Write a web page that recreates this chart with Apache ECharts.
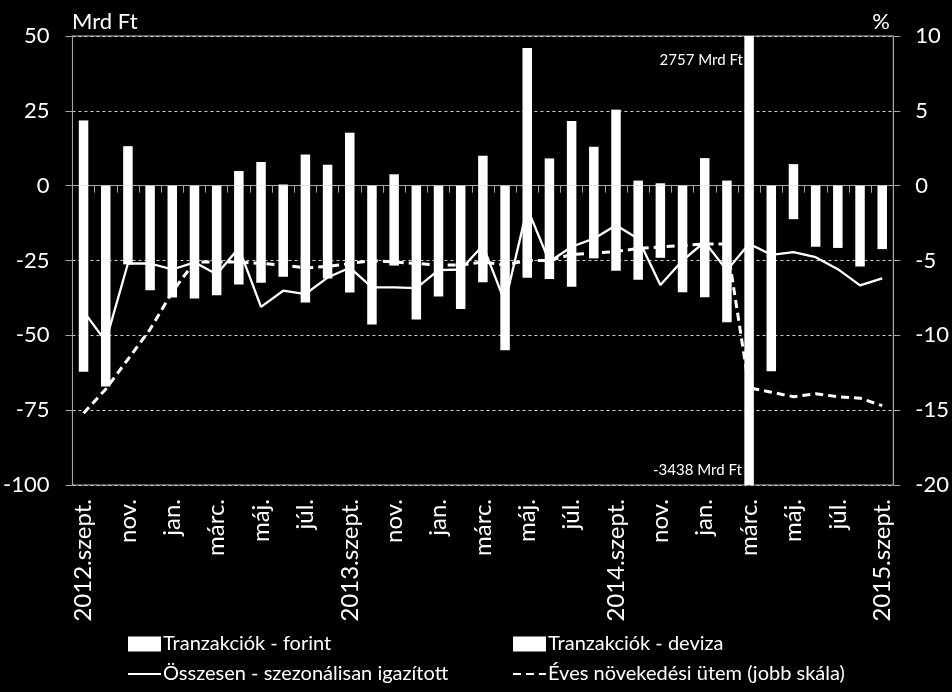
<!DOCTYPE html>
<html>
<head>
<meta charset="utf-8">
<script src="https://cdn.jsdelivr.net/npm/echarts@6/dist/echarts.min.js"></script>
<style>
html,body{margin:0;padding:0;background:#000;}
#c{width:952px;height:692px;}
</style>
</head>
<body>
<div id="c"></div>
<script>
const categories = ['2012.szept.','okt.','nov.','dec.','jan.','febr.','márc.','ápr.','máj.','jún.','júl.','aug.',
  '2013.szept.','okt.','nov.','dec.','jan.','febr.','márc.','ápr.','máj.','jún.','júl.','aug.',
  '2014.szept.','okt.','nov.','dec.','jan.','febr.','márc.','ápr.','máj.','jún.','júl.','aug.','2015.szept.'];

const forint = [21.8, 0, 13.2, 0, 0, 0, 0, 4.9, 7.9, 0.4, 10.4, 7,
  17.7, 0, 3.8, 0, 0, 0, 10, 0, 46, 9.1, 21.6, 13,
  25.4, 1.7, 0.8, 0, 9.2, 1.7, 2757, 0, 7.2, 0, 0, 0, 0];

const deviza = [-62.2, -67.1, -26.3, -34.9, -37.4, -37.7, -36.6, -33, -32.4, -30.4, -39, -31,
  -35.7, -46.4, -26.7, -44.7, -37, -41.2, -32.3, -55, -30.8, -31.2, -33.8, -24.3,
  -28.4, -31.4, -24.1, -35.6, -37.3, -45.6, -3438, -62, -11.2, -20.4, -20.8, -27, -21.2];

const osszesen = [-42, -52, -26, -26, -28, -25.6, -29.6, -20.8, -40.5, -35.1, -36.2, -30.7,
  -27.4, -34, -34, -34.2, -28.2, -28, -20, -39, -7.5, -25.4, -20.4, -17.7,
  -13.2, -17.7, -33.2, -25, -18.8, -28.3, -19.4, -23.1, -22.2, -23.9, -27.9, -33.3, -31];

const eves = [-15.2, -13.6, -11.6, -9.6, -7.1, -5.1, -5.1, -5.1, -5.2, -5.3, -5.5, -5.4,
  -5.2, -5.0, -5.1, -5.2, -5.3, -5.3, -5.1, -5.3, -5.0, -5.0, -4.6, -4.5,
  -4.4, -4.2, -4.1, -4.0, -3.9, -3.9, -13.5, -13.8, -14.1, -13.9, -14.1, -14.2, -14.7];

const leftTicks = {min: -100, max: 50, interval: 25};
const rightTicks = {min: -20, max: 10, interval: 5};

const names = ['Tranzakciók - forint', 'Tranzakciók - deviza', 'Összesen - szezonálisan igazított', 'Éves növekedési ütem (jobb skála)'];
const annotTop = '2757 Mrd Ft';
const annotBottom = '-3438 Mrd Ft';

const FONT = 'Lato';
const chart = echarts.init(document.getElementById('c'), null, {renderer: 'canvas'});
const axisGray = '#a6a6a6';
const legendText = {color: '#fff', fontSize: 20, fontFamily: FONT, lineHeight: 22, padding: [0, 0, 0, -3]};

const option = {
  backgroundColor: '#000',
  animation: false,
  textStyle: {fontFamily: FONT, color: '#fff'},
  grid: {left: 67, right: 55, top: 36, bottom: 207, show: true, borderColor: '#bfbfbf', borderWidth: 1, backgroundColor: 'transparent'},
  legend: [
    {
      left: 122, top: 628, orient: 'vertical', itemWidth: 33, itemHeight: 15, itemGap: 8,
      textStyle: legendText,
      data: [{name: names[0], icon: 'rect'}, {name: names[2], itemStyle: {opacity: 0}}]
    },
    {
      left: 507, top: 628, orient: 'vertical', itemWidth: 33, itemHeight: 15, itemGap: 8,
      textStyle: legendText,
      data: [{name: names[1], icon: 'rect'}, {name: names[3], itemStyle: {opacity: 0}}]
    }
  ],
  xAxis: [
    {
      type: 'category', data: categories, position: 'bottom', gridIndex: 0,
      axisLine: {show: false, onZero: false},
      axisTick: {show: false},
      axisLabel: {interval: 1, rotate: 90, color: '#fff', fontSize: 24, fontFamily: FONT, margin: 14},
      splitLine: {show: false}
    },
    {
      type: 'category', data: categories, position: 'bottom', gridIndex: 0,
      axisLine: {show: true, onZero: true, onZeroAxisIndex: 0, lineStyle: {color: axisGray, width: 1}},
      axisTick: {show: true, interval: 0, length: 7, lineStyle: {color: axisGray}},
      axisLabel: {show: false},
      splitLine: {show: false}
    }
  ],
  yAxis: [
    {
      type: 'value', position: 'left', min: leftTicks.min, max: leftTicks.max, interval: leftTicks.interval,
      axisLine: {show: true, lineStyle: {color: axisGray}},
      axisTick: {show: true, length: 7, lineStyle: {color: axisGray}},
      axisLabel: {color: '#fff', fontSize: 22, fontFamily: FONT, margin: 23},
      splitLine: {show: true, lineStyle: {color: '#d0d0d0', type: [3, 3], width: 1}}
    },
    {
      type: 'value', position: 'right', min: rightTicks.min, max: rightTicks.max, interval: rightTicks.interval,
      axisLine: {show: true, lineStyle: {color: axisGray}},
      axisTick: {show: true, length: 7, lineStyle: {color: axisGray}},
      axisLabel: {color: '#fff', fontSize: 22, fontFamily: FONT, margin: 22},
      splitLine: {show: false}
    }
  ],
  series: [
    {name: names[0], type: 'bar', stack: 'tr', data: forint, barWidth: 9.5, xAxisIndex: 0, yAxisIndex: 0,
      itemStyle: {color: '#fff'}, clip: true},
    {name: names[1], type: 'bar', stack: 'tr', data: deviza, barWidth: 9.5, xAxisIndex: 0, yAxisIndex: 0,
      itemStyle: {color: '#fff'}, clip: true},
    {name: names[2], type: 'line', data: osszesen, xAxisIndex: 0, yAxisIndex: 0, symbol: 'none',
      lineStyle: {color: '#fff', width: 2.3}, itemStyle: {color: '#fff'}},
    {name: names[3], type: 'line', data: eves, xAxisIndex: 0, yAxisIndex: 1, symbol: 'none',
      lineStyle: {color: '#fff', width: 3, type: [8, 5]}, itemStyle: {color: '#fff'}}
  ],
  graphic: [
    {type: 'text', x: 72, y: 22, style: {text: 'Mrd Ft', fill: '#fff', font: '22px ' + FONT, verticalAlign: 'middle', align: 'left'}},
    {type: 'text', x: 890, y: 22, style: {text: '%', fill: '#fff', font: '22px ' + FONT, verticalAlign: 'middle', align: 'right'}},
    {type: 'text', x: 743, y: 60, z: 100, style: {text: annotTop, fill: '#fff', font: '15px ' + FONT, verticalAlign: 'middle', align: 'right'}},
    {type: 'text', x: 742, y: 470, z: 100, style: {text: annotBottom, fill: '#fff', font: '15px ' + FONT, verticalAlign: 'middle', align: 'right'}}
  ]
};
chart.setOption(option);
</script>
</body>
</html>
